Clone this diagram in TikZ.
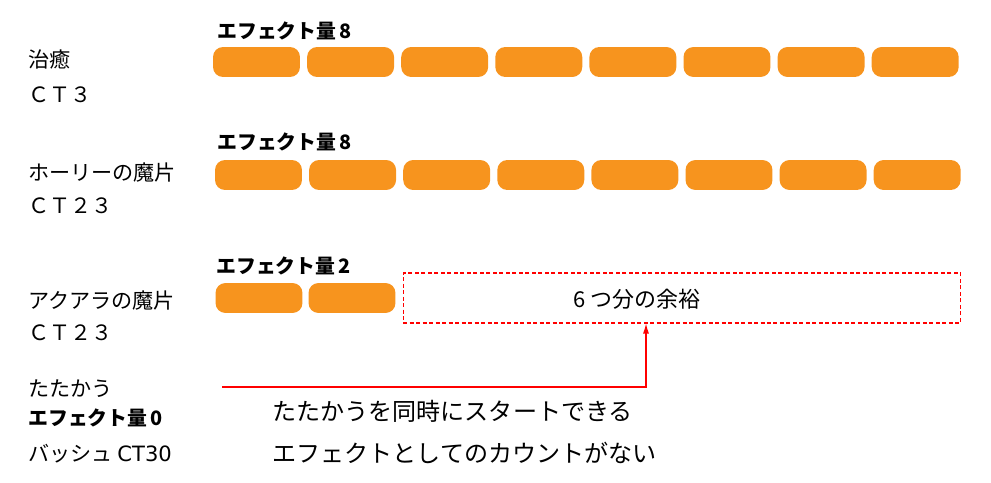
\documentclass[tikz,border=0pt]{standalone}
\usepackage{fontspec}
\setmainfont{Noto Sans CJK JP}
\newfontfamily\widelatin{DejaVu Sans}
\usetikzlibrary{positioning,arrows.meta}
\definecolor{pillorange}{HTML}{F7941E}
\begin{document}
\begin{tikzpicture}[x=0.02cm,y=-0.02cm,>={Latex[length=2mm,width=1.2mm]},
  pill/.style={fill=pillorange,rounded corners=0.2cm,minimum width=1.74cm,minimum height=0.6cm,inner sep=0},
  lab/.style={anchor=west,inner sep=0,font=\fontsize{12}{13}\selectfont},
  eff/.style={anchor=west,inner sep=0,font=\bfseries\fontsize{11.3}{12}\selectfont},
  note/.style={anchor=west,inner sep=0,font=\fontsize{13.7}{14}\selectfont}]
  \useasboundingbox (0,0) rectangle (991,483);
  \node[eff] (e1) at (217,31) {エフェクト量\,8};
  \node[eff] (e2) at (217,142) {エフェクト量\,8};
  \node[eff] (e3) at (216,266) {エフェクト量\,2};
  \foreach \i in {0,...,7} {
    \node[pill] (a\i) at (256.5+94.1*\i,62) {};
    \node[pill] (b\i) at (258.5+94.1*\i,175) {};
  }
  \node[pill] (c0) at (259,298) {};
  \node[pill] (c1) at (352,298) {};
  \node[draw=red,line width=0.6pt,dash pattern=on 0.08cm off 0.05cm,minimum width=11.16cm,minimum height=1cm,inner sep=0] (spare) at (682,298) {};
  \node[inner sep=0,font=\fontsize{12.5}{13}\selectfont] (sparetext) at (637,299) {6 つ分の余裕};
  \node[lab] (heal) at (28,60) {治癒};
  \node[lab] (healct) at (28,95) {ＣＴ３};
  \node[lab] (holy) at (28,173) {ホーリーの魔片};
  \node[lab] (holyct) at (28,206) {ＣＴ２３};
  \node[lab] (aqua) at (28,301) {アクアラの魔片};
  \node[lab] (aquact) at (28,333) {ＣＴ２３};
  \node[lab] (fight) at (28,389) {たたかう};
  \node[eff] (fighteff) at (28,418) {エフェクト量\,0};
  \node[lab] (fightct) at (28,454) {バッシュ {\widelatin CT30}};
  \node[note] (n1) at (272,411) {たたかうを同時にスタートできる};
  \node[note] (n2) at (272,453) {エフェクトとしてのカウントがない};
  \coordinate (start) at (222,387);
  \draw[->,red,line width=0.6pt] (start) -| ([xshift=-0.72cm]spare.south);
\end{tikzpicture}
\end{document}
